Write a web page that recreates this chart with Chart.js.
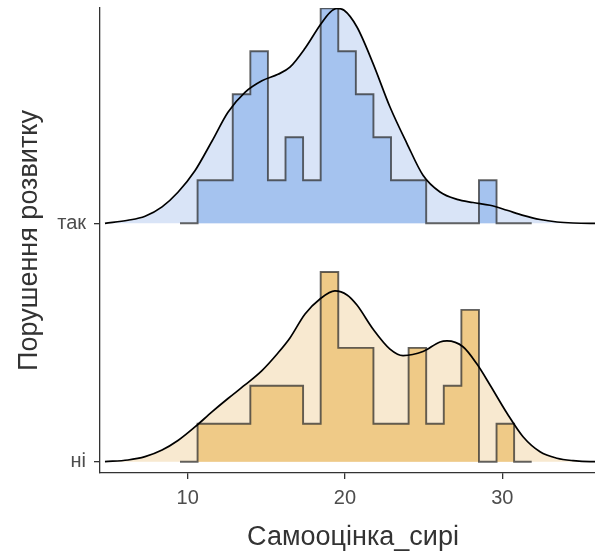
<!DOCTYPE html>
<html>
<head>
<meta charset="utf-8">
<script src="https://cdn.jsdelivr.net/npm/chart.js@4.4.1/dist/chart.umd.min.js"></script>
<style>
  html, body { margin: 0; padding: 0; background: #ffffff; overflow: hidden; width: 595px; height: 555px; }
  canvas { display: block; }
</style>
</head>
<body>
<canvas id="c" width="612" height="555"></canvas>
<script>
// ---------- data ----------
const groups = ['ні', 'так'];              // y categories (bottom, top)
const groupPositions = [1, 2];
const xTicks = [10, 20, 30];
const xTitle = 'Самооцінка_сирі';
const yTitle = 'Порушення розвитку';

// histogram bin edges (shared by both ridges, padded empty bins at the ends)
const binEdges = [9.51, 10.628, 11.746, 12.864, 13.982, 15.1, 16.218, 17.336, 18.454, 19.572,
                  20.69, 21.808, 22.926, 24.044, 25.162, 26.28, 27.398, 28.516, 29.634, 30.752, 31.87];
// counts per bin
const countsTak = [0, 1, 1, 3, 4, 1, 2, 1, 5, 4, 3, 2, 1, 1, 0, 0, 0, 1, 0, 0];
const countsNi  = [0, 1, 1, 1, 2, 2, 2, 1, 5, 3, 3, 1, 1, 3, 1, 2, 4, 0, 1, 0];

// kernel density curves
const densXTak = [4.74, 6.20, 7.29, 8.37, 9.38, 10.46, 11.54, 12.56, 13.64, 14.72, 15.74, 16.50, 17.46,
                  18.41, 19.05, 19.49, 19.94, 20.76, 21.78, 22.86, 23.94, 24.96, 26.04, 27.12, 28.14,
                  29.22, 30.30, 31.32, 32.40, 33.48, 34.50, 35.58, 37.16];
const densYTak = [0, 0.0021, 0.0049, 0.0114, 0.0215, 0.0364, 0.0569, 0.0770, 0.0908, 0.0988, 0.1033, 0.1082, 0.1213,
                  0.1373, 0.1463, 0.1489, 0.1477, 0.1361, 0.1109, 0.0806, 0.0553, 0.0333, 0.0217, 0.0166, 0.0144,
                  0.0125, 0.0090, 0.0055, 0.0026, 0.0009, 0.0002, 0, 0];
const densXNi  = [4.74, 6.20, 7.29, 8.37, 9.38, 10.46, 11.54, 12.56, 13.64, 14.72, 15.74, 16.50, 17.46,
                  18.41, 19.36, 20.13, 20.76, 21.78, 22.86, 23.69, 24.96, 26.04, 26.48, 27.50, 28.39,
                  29.22, 30.30, 31.32, 32.40, 33.48, 34.50, 35.58, 37.16];
const densYNi  = [0, 0.0012, 0.0035, 0.0081, 0.0147, 0.0241, 0.0345, 0.0438, 0.0532, 0.0632, 0.0754, 0.0858, 0.1024,
                  0.1128, 0.1184, 0.1156, 0.1086, 0.0920, 0.0781, 0.0736, 0.0764, 0.0830, 0.0837, 0.0797, 0.0677,
                  0.0532, 0.0336, 0.0173, 0.0069, 0.0024, 0.0007, 0, 0];

// ---------- build datasets ----------
const ridgeScale = 6.05;   // density -> y units

function histPoints(counts, base) {
  const n = counts.reduce((a, b) => a + b, 0);
  const w = binEdges[1] - binEdges[0];
  const pts = counts.map((c, i) => ({ x: binEdges[i], y: base + c / (n * w) * ridgeScale }));
  pts.push({ x: binEdges[binEdges.length - 1], y: base + counts[counts.length - 1] / (n * w) * ridgeScale });
  return pts;
}
function densPoints(xs, ys, base) {
  return xs.map((x, i) => ({ x: x, y: base + ys[i] * ridgeScale }));
}

const styles = {
  'так': { hist: '#A5C3EF', dens: 'rgba(217,228,247,1)' },
  'ні':  { hist: '#EFCA87', dens: 'rgba(248,233,208,1)' }
};

const datasets = [];
const ridgeData = [
  { name: 'так', base: groupPositions[1], counts: countsTak, dx: densXTak, dy: densYTak },
  { name: 'ні',  base: groupPositions[0], counts: countsNi,  dx: densXNi,  dy: densYNi }
];
let ord = 0;
ridgeData.forEach(r => {
  const dp = densPoints(r.dx, r.dy, r.base);
  datasets.push({ // density outline on top
    data: dp, borderColor: '#000000', borderWidth: 1.7, fill: false,
    cubicInterpolationMode: 'monotone', pointRadius: 0, order: ord++
  });
  datasets.push({ // histogram (binline)
    data: histPoints(r.counts, r.base), stepped: 'before',
    borderColor: 'rgba(40,40,40,0.72)', borderWidth: 1.9,
    backgroundColor: styles[r.name].hist, fill: { value: r.base },
    pointRadius: 0, order: ord++
  });
  datasets.push({ // density fill
    data: dp, borderWidth: 0, borderColor: 'rgba(0,0,0,0)',
    backgroundColor: styles[r.name].dens, fill: { value: r.base },
    cubicInterpolationMode: 'monotone', pointRadius: 0, order: ord++
  });
});

const FONT = "'Liberation Sans', Arial, sans-serif";

new Chart(document.getElementById('c'), {
  type: 'line',
  data: { datasets: datasets },
  options: {
    responsive: false,
    animation: false,
    devicePixelRatio: 1,
    layout: { padding: { left: 0, right: 6, top: 8, bottom: 0 } },
    plugins: { legend: { display: false }, tooltip: { enabled: false } },
    scales: {
      x: {
        type: 'linear',
        min: 4.4247, max: 36.593,
        afterBuildTicks: s => { s.ticks = xTicks.map(v => ({ value: v })); },
        afterFit: s => { s.height = 82; s.paddingLeft = 0; s.paddingRight = 0; },
        grid: { drawOnChartArea: false, drawTicks: true, tickLength: 6, color: '#333333', lineWidth: 1.3 },
        border: { display: true, color: '#333333', width: 1.3 },
        ticks: { color: '#4D4D4D', font: { family: FONT, size: 20 }, padding: 7, maxRotation: 0 },
        title: { display: true, text: xTitle, color: '#333333', font: { family: FONT, size: 27 }, padding: { top: 0, bottom: 1 } }
      },
      y: {
        type: 'linear',
        min: 0.9526, max: 2.903,
        afterBuildTicks: s => { s.ticks = groupPositions.map(v => ({ value: v })); },
        afterFit: s => { s.width = 100; s.paddingTop = 0; s.paddingBottom = 0; },
        grid: { drawOnChartArea: false, drawTicks: true, tickLength: 6, color: '#333333', lineWidth: 1.3 },
        border: { display: true, color: '#333333', width: 1.3 },
        ticks: {
          color: '#4D4D4D', font: { family: FONT, size: 20 }, padding: 8,
          callback: v => { const i = groupPositions.indexOf(v); return i >= 0 ? groups[i] : ''; }
        },
        title: { display: true, text: yTitle, color: '#333333', font: { family: FONT, size: 27 }, padding: { top: 13, bottom: 0 } }
      }
    }
  }
});
</script>
</body>
</html>
